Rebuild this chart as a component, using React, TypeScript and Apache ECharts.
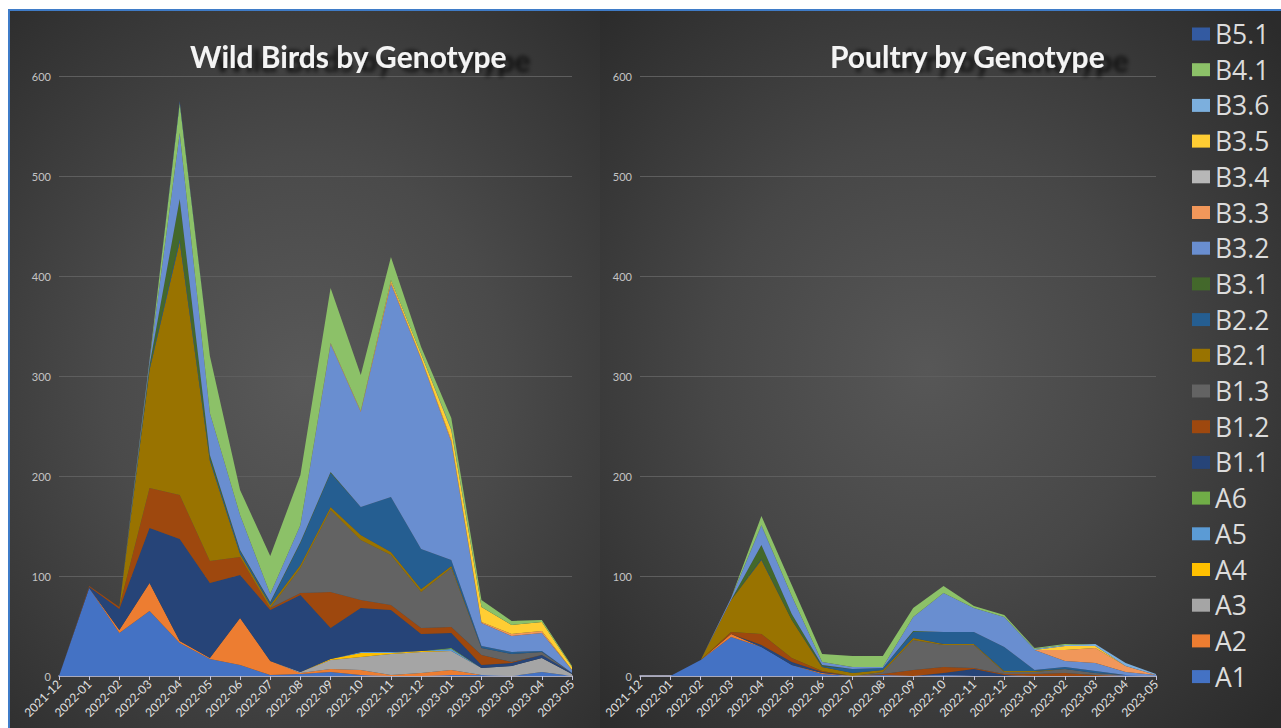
import React, { useEffect, useRef } from "react";
import * as echarts from "echarts";

const months = [
  "2021-12", "2022-01", "2022-02", "2022-03", "2022-04", "2022-05", "2022-06",
  "2022-07", "2022-08", "2022-09", "2022-10", "2022-11", "2022-12",
  "2023-01", "2023-02", "2023-03", "2023-04", "2023-05",
];

const genotypes = [
  "A1", "A2", "A3", "A4", "A5", "A6", "B1.1", "B1.2", "B1.3", "B2.1", "B2.2",
  "B3.1", "B3.2", "B3.3", "B3.4", "B3.5", "B3.6", "B4.1", "B5.1",
];

const colors = [
  "#4472C4", "#ED7D31", "#A5A5A5", "#FFC000", "#5B9BD5", "#70AD47", "#264478",
  "#9E480E", "#636363", "#997300", "#255E91", "#43682B", "#698ED0", "#F1975A",
  "#B7B7B7", "#FFCD33", "#7CAFDD", "#8CC168", "#335AA1",
];

const yTicks = [0, 100, 200, 300, 400, 500, 600];

// Wild birds
const wildA1 = [0, 88, 43, 65, 33, 17, 11, 1, 2, 4, 1, 0, 0, 1, 1, 0, 4, 0];
const wildA2 = [0, 0, 3, 28, 2, 1, 47, 14, 1, 3, 5, 1, 3, 5, 0, 0, 0, 0];
const wildA3 = [0, 0, 0, 0, 0, 0, 0, 0, 1, 9, 13, 21, 21, 19, 7, 10, 14, 2];
const wildA4 = [0, 0, 0, 0, 0, 0, 0, 0, 0, 1, 4, 1, 1, 0, 0, 0, 0, 0];
const wildA5 = [0, 0, 0, 0, 0, 0, 0, 0, 0, 0, 1, 1, 0, 2, 0, 0, 0, 0];
const wildA6 = [0, 0, 0, 0, 0, 0, 0, 0, 0, 0, 0, 0, 0, 1, 0, 0, 0, 0];
const wildB11 = [0, 1, 21, 55, 102, 75, 43, 51, 77, 31, 44, 42, 17, 15, 3, 3, 3, 1];
const wildB12 = [0, 1, 2, 40, 44, 22, 18, 2, 2, 36, 8, 5, 6, 6, 10, 1, 0, 0];
const wildB13 = [0, 0, 0, 0, 0, 0, 0, 0, 25, 82, 60, 50, 36, 59, 7, 8, 3, 0];
const wildB21 = [0, 0, 0, 118, 253, 100, 3, 3, 3, 3, 5, 3, 3, 2, 0, 0, 0, 0];
const wildB22 = [0, 0, 0, 2, 3, 2, 3, 2, 22, 34, 28, 55, 40, 6, 2, 2, 1, 0];
const wildB31 = [0, 0, 0, 3, 40, 4, 1, 1, 1, 1, 0, 0, 0, 0, 0, 0, 0, 0];
const wildB32 = [0, 0, 0, 4, 66, 42, 35, 8, 17, 128, 95, 213, 190, 118, 23, 16, 18, 3];
const wildB33 = [0, 0, 0, 0, 0, 0, 0, 0, 0, 1, 1, 2, 1, 2, 1, 2, 2, 0];
const wildB34 = [0, 0, 0, 0, 0, 0, 0, 0, 0, 0, 0, 0, 0, 0, 0, 0, 0, 0];
const wildB35 = [0, 0, 0, 0, 0, 0, 0, 0, 0, 0, 0, 2, 4, 10, 15, 9, 9, 3];
const wildB36 = [0, 0, 0, 0, 0, 0, 0, 0, 0, 0, 0, 0, 0, 1, 0, 0, 0, 0];
const wildB41 = [0, 0, 0, 1, 30, 57, 25, 38, 50, 55, 36, 23, 7, 11, 7, 4, 2, 1];
const wildB51 = [0, 0, 0, 0, 2, 0, 0, 0, 0, 0, 0, 0, 0, 0, 0, 0, 0, 0];

// Poultry
const poultryA1 = [0, 0, 16, 39, 29, 11, 2, 0, 1, 0, 1, 0, 0, 0, 0, 0, 1, 0];
const poultryA2 = [0, 0, 0, 3, 0, 0, 1, 0, 0, 0, 0, 0, 0, 0, 0, 0, 0, 0];
const poultryA3 = [0, 0, 0, 0, 0, 0, 0, 0, 0, 0, 0, 0, 0, 0, 0, 0, 0, 0];
const poultryA4 = [0, 0, 0, 0, 0, 0, 0, 0, 0, 0, 0, 0, 0, 0, 0, 0, 0, 0];
const poultryA5 = [0, 0, 0, 0, 0, 0, 0, 0, 0, 0, 0, 0, 0, 0, 0, 0, 0, 0];
const poultryA6 = [0, 0, 0, 0, 0, 0, 0, 0, 0, 0, 0, 0, 0, 0, 0, 0, 0, 0];
const poultryB11 = [0, 0, 0, 0, 2, 3, 1, 0, 0, 0, 2, 7, 1, 0, 0, 0, 0, 0];
const poultryB12 = [0, 0, 0, 2, 11, 4, 1, 0, 1, 6, 6, 1, 1, 2, 3, 1, 0, 0];
const poultryB13 = [0, 0, 0, 0, 0, 0, 0, 0, 2, 30, 22, 23, 2, 2, 4, 2, 0, 0];
const poultryB21 = [0, 0, 0, 32, 74, 38, 4, 3, 2, 2, 1, 1, 1, 1, 0, 0, 0, 0];
const poultryB22 = [0, 0, 0, 0, 1, 0, 1, 4, 2, 6, 12, 12, 24, 1, 2, 2, 0, 0];
const poultryB31 = [0, 0, 0, 0, 14, 6, 1, 0, 0, 1, 0, 0, 0, 0, 0, 0, 0, 0];
const poultryB32 = [0, 0, 0, 2, 19, 18, 3, 2, 1, 14, 39, 24, 30, 20, 6, 8, 3, 1];
const poultryB33 = [0, 0, 0, 0, 0, 0, 0, 0, 0, 0, 0, 0, 0, 0, 11, 15, 6, 0];
const poultryB34 = [0, 0, 0, 0, 0, 0, 0, 0, 0, 0, 0, 0, 0, 0, 0, 0, 0, 0];
const poultryB35 = [0, 0, 0, 0, 0, 0, 0, 0, 0, 0, 0, 0, 0, 0, 4, 2, 0, 0];
const poultryB36 = [0, 0, 0, 0, 1, 0, 0, 0, 0, 0, 0, 0, 0, 1, 1, 2, 3, 1];
const poultryB41 = [0, 0, 0, 0, 9, 11, 8, 11, 11, 9, 7, 2, 2, 1, 1, 0, 0, 0];
const poultryB51 = [0, 0, 0, 0, 0, 0, 0, 0, 0, 0, 0, 0, 0, 0, 0, 0, 0, 0];

const wildData = [
  wildA1, wildA2, wildA3, wildA4, wildA5, wildA6, wildB11, wildB12, wildB13,
  wildB21, wildB22, wildB31, wildB32, wildB33, wildB34, wildB35, wildB36,
  wildB41, wildB51,
];
const poultryData = [
  poultryA1, poultryA2, poultryA3, poultryA4, poultryA5, poultryA6, poultryB11,
  poultryB12, poultryB13, poultryB21, poultryB22, poultryB31, poultryB32,
  poultryB33, poultryB34, poultryB35, poultryB36, poultryB41, poultryB51,
];

const FONT = "Lato, 'Open Sans', sans-serif";

function makeSeries(data: number[][], idx: number, stack: string) {
  return genotypes.map((g, i) => ({
    name: g,
    type: "line",
    stack,
    xAxisIndex: idx,
    yAxisIndex: idx,
    data: data[i],
    symbol: "none",
    showSymbol: false,
    color: colors[i],
    lineStyle: { width: 0, color: colors[i] },
    areaStyle: { color: colors[i], opacity: 1 },
    itemStyle: { color: colors[i] },
    emphasis: { disabled: true },
  }));
}

function xAxisCfg(gridIndex: number) {
  return {
    type: "category",
    gridIndex,
    data: months,
    boundaryGap: false,
    axisLine: { show: true, lineStyle: { color: "#c4c4dc", width: 1.5 } },
    axisTick: { show: true, length: 4, interval: 0, lineStyle: { color: "#c4c4dc" } },
    axisLabel: {
      rotate: 45,
      interval: 0,
      color: "#e0e0e0",
      fontSize: 12,
      fontFamily: FONT,
      margin: 6,
    },
    splitLine: { show: false },
  };
}

function yAxisCfg(gridIndex: number) {
  return {
    type: "value",
    gridIndex,
    min: yTicks[0],
    max: yTicks[yTicks.length - 1],
    interval: 100,
    axisLine: { show: false },
    axisTick: { show: false },
    axisLabel: { color: "#c4c4c4", fontSize: 11, fontFamily: FONT, margin: 8 },
    splitLine: { show: true, lineStyle: { color: "#5e5e5e", width: 1 } },
  };
}

const titleStyle = {
  color: "#f4f4f4",
  fontSize: 30,
  fontWeight: "bold",
  fontFamily: FONT,
  textShadowColor: "rgba(0,0,0,0.7)",
  textShadowBlur: 4,
  textShadowOffsetX: 24,
  textShadowOffsetY: 4,
};

export default function App() {
  const ref = useRef<HTMLDivElement>(null);

  useEffect(() => {
    if (!ref.current) return;
    const chart = echarts.init(ref.current, null, { renderer: "svg" });
    chart.setOption({
      animation: false,
      backgroundColor: "transparent",
      title: [
        { text: "Wild Birds by Genotype", left: 180, top: 30, padding: 0, textStyle: titleStyle },
        { text: "Poultry by Genotype", left: 820, top: 30, padding: 0, textStyle: titleStyle },
      ],
      legend: {
        orient: "vertical",
        left: 1182,
        top: 8,
        padding: 0,
        itemWidth: 18,
        itemHeight: 13,
        itemGap: 5.7,
        icon: "rect",
        data: genotypes.slice().reverse(),
        textStyle: {
          color: "#dcdcdc",
          fontSize: 26.5,
          lineHeight: 30,
          fontFamily: "'Open Sans', sans-serif",
        },
        selectedMode: false,
      },
      grid: [
        { left: 49, top: 65, width: 513, height: 600, containLabel: false },
        { left: 630, top: 65, width: 516, height: 600, containLabel: false },
      ],
      xAxis: [xAxisCfg(0), xAxisCfg(1)],
      yAxis: [yAxisCfg(0), yAxisCfg(1)],
      series: [...makeSeries(wildData, 0, "wild"), ...makeSeries(poultryData, 1, "poultry")],
    });
    return () => chart.dispose();
  }, []);

  return (
    <div
      style={{
        position: "fixed",
        left: 8,
        top: 9,
        width: 1273,
        height: 719,
        borderTop: "2px solid #3f7cc8",
        borderLeft: "2px solid #3f7cc8",
        boxSizing: "border-box",
        overflow: "hidden",
        background: "#333",
      }}
    >
      <div
        style={{
          position: "absolute",
          left: 0,
          top: 0,
          width: 590,
          height: 717,
          background: "radial-gradient(ellipse 75% 70% at 50% 52%, #595959 0%, #4a4a4a 45%, #2e2e2e 100%)",
        }}
      />
      <div
        style={{
          position: "absolute",
          left: 590,
          top: 0,
          width: 681,
          height: 717,
          background: "radial-gradient(ellipse 70% 70% at 48% 50%, #575757 0%, #474747 45%, #2b2b2b 100%)",
        }}
      />
      <div ref={ref} style={{ position: "absolute", left: 0, top: 0, width: 1271, height: 717 }} />
    </div>
  );
}
